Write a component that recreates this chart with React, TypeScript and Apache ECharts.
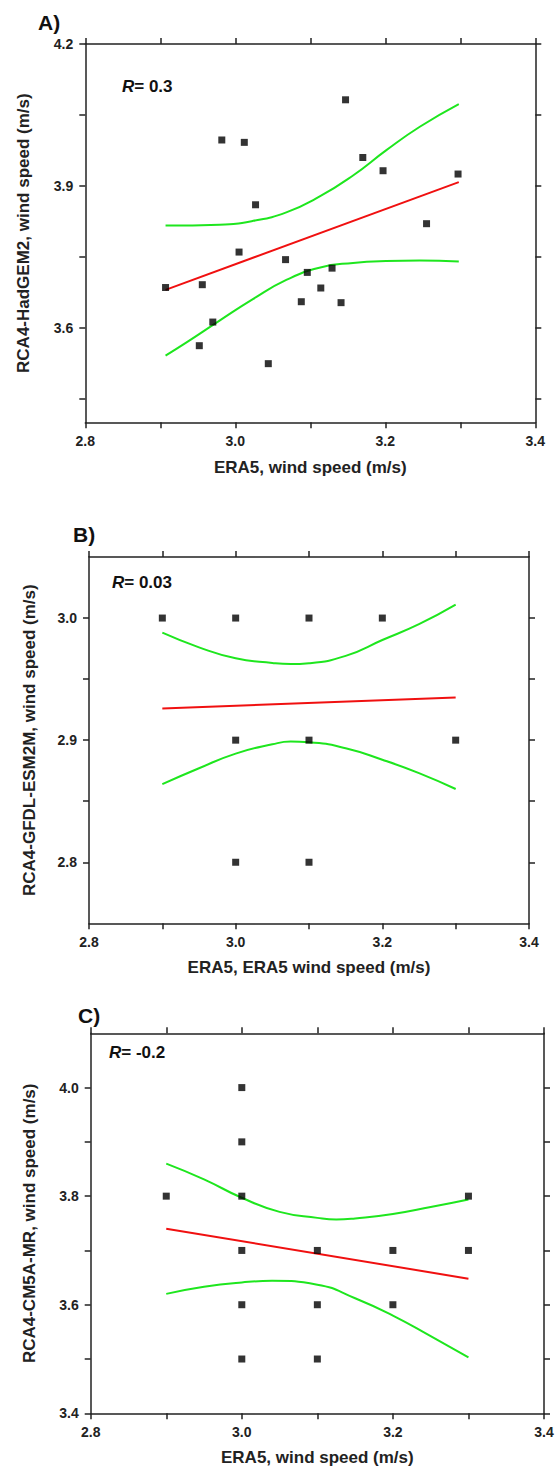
import React, { useEffect, useRef } from "react";
import * as echarts from "echarts";

// ---------- Panel A: RCA4-HadGEM2 ----------
const aObsX = [2.907, 2.956, 2.952, 2.970, 2.982, 3.012, 3.005, 3.027, 3.044, 3.067, 3.088, 3.096, 3.114, 3.129, 3.141, 3.147, 3.170, 3.197, 3.255, 3.297];
const aModY = [3.685, 3.691, 3.562, 3.612, 3.997, 3.992, 3.760, 3.860, 3.524, 3.744, 3.655, 3.717, 3.684, 3.726, 3.653, 4.082, 3.960, 3.932, 3.820, 3.925];
const aFitX = [2.907, 3.298];
const aFitY = [3.680, 3.908];
const aUpperX = [2.907, 2.979, 3.024, 3.068, 3.112, 3.157, 3.201, 3.246, 3.298];
const aUpperY = [3.816, 3.818, 3.826, 3.844, 3.877, 3.922, 3.975, 4.025, 4.073];
const aLowerX = [2.907, 2.935, 2.979, 3.024, 3.068, 3.112, 3.157, 3.201, 3.246, 3.298];
const aLowerY = [3.541, 3.569, 3.615, 3.661, 3.701, 3.727, 3.737, 3.741, 3.742, 3.740];
const aXTicks = [2.8, 2.9, 3.0, 3.1, 3.2, 3.3, 3.4];
const aXLabels = [2.8, 3.0, 3.2, 3.4];
const aYTicks = [3.45, 3.6, 3.75, 3.9, 4.05, 4.2];
const aYLabels = [3.6, 3.9, 4.2];

// ---------- Panel B: RCA4-GFDL-ESM2M ----------
const bObsX = [2.9, 3.0, 3.1, 3.2, 3.0, 3.1, 3.3, 3.0, 3.1];
const bModY = [3.0, 3.0, 3.0, 3.0, 2.9, 2.9, 2.9, 2.8, 2.8];
const bFitX = [2.9, 3.3];
const bFitY = [2.926, 2.935];
const bBandX = [2.9, 2.95, 3.0, 3.05, 3.075, 3.1, 3.15, 3.2, 3.25, 3.3];
const bUpperY = [2.988, 2.976, 2.967, 2.9632, 2.9623, 2.9630, 2.969, 2.982, 2.995, 3.011];
const bLowerY = [2.864, 2.877, 2.889, 2.8966, 2.8988, 2.8983, 2.8934, 2.884, 2.873, 2.860];
const bXTicks = [2.8, 2.9, 3.0, 3.1, 3.2, 3.3, 3.4];
const bXLabels = [2.8, 3.0, 3.2, 3.4];
const bYTicks = [2.8, 2.85, 2.9, 2.95, 3.0];
const bYLabels = [2.8, 2.9, 3.0];

// ---------- Panel C: RCA4-CM5A-MR ----------
const cObsX = [2.9, 3.0, 3.0, 3.0, 3.0, 3.0, 3.0, 3.1, 3.1, 3.1, 3.2, 3.2, 3.3, 3.3];
const cModY = [3.8, 4.0, 3.9, 3.8, 3.7, 3.6, 3.5, 3.7, 3.6, 3.5, 3.7, 3.6, 3.8, 3.7];
const cFitX = [2.9, 3.3];
const cFitY = [3.740, 3.648];
const cUpperX = [2.9, 2.95, 3.0, 3.05, 3.1, 3.125, 3.15, 3.2, 3.25, 3.3];
const cUpperY = [3.860, 3.831, 3.797, 3.771, 3.760, 3.757, 3.759, 3.767, 3.780, 3.794];
const cLowerX = [2.9, 2.95, 3.0, 3.04, 3.1, 3.15, 3.2, 3.25, 3.3];
const cLowerY = [3.620, 3.633, 3.641, 3.644, 3.637, 3.612, 3.580, 3.542, 3.503];
const cXTicks = [2.8, 2.9, 3.0, 3.1, 3.2, 3.3, 3.4];
const cXLabels = [2.8, 3.0, 3.2, 3.4];
const cYTicks = [3.4, 3.5, 3.6, 3.7, 3.8, 3.9, 4.0];
const cYLabels = [3.4, 3.6, 3.8, 4.0];

const FONT = '"Liberation Sans", Arial, sans-serif';
const AX = "#222";
const RED = "#f01010";
const GREEN = "#1ee61e";

const zip = (xs: number[], ys: number[]) => xs.map((x, i) => [x, ys[i]]);

function makeAxes(
  grid: number,
  xr: [number, number], xTicks: number[], xLabels: number[], xName: string, xGap: number,
  yr: [number, number], yTicks: number[], yLabels: number[], yName: string, yGap: number
) {
  const line = { show: true, onZero: false, lineStyle: { color: AX, width: 1.5 } };
  const tick = (vals: number[]) => ({ show: true, inside: false, length: 6, customValues: vals, lineStyle: { color: AX, width: 1.5 } });
  const label = (vals: number[], margin: number) => ({
    show: true, customValues: vals, margin,
    formatter: (v: number) => v.toFixed(1),
    fontFamily: FONT, fontSize: 14, fontWeight: "bold", color: AX,
  });
  const nameStyle = { fontFamily: FONT, fontSize: 17, fontWeight: "bold", color: AX };
  const xAxes = [
    { type: "value", gridIndex: grid, position: "bottom", min: xr[0], max: xr[1], axisLine: line, axisTick: tick(xTicks), axisLabel: label(xLabels, 12), splitLine: { show: false }, name: xName, nameLocation: "middle", nameGap: xGap, nameTextStyle: nameStyle, nameMoveOverlap: false },
    { type: "value", gridIndex: grid, position: "top", min: xr[0], max: xr[1], axisLine: line, axisTick: tick(xTicks), axisLabel: { show: false }, splitLine: { show: false } },
  ];
  const yAxes = [
    { type: "value", gridIndex: grid, position: "left", min: yr[0], max: yr[1], axisLine: line, axisTick: tick(yTicks), axisLabel: label(yLabels, 12), splitLine: { show: false }, name: yName, nameLocation: "middle", nameGap: yGap, nameTextStyle: nameStyle, nameMoveOverlap: false },
    { type: "value", gridIndex: grid, position: "right", min: yr[0], max: yr[1], axisLine: line, axisTick: tick(yTicks), axisLabel: { show: false }, splitLine: { show: false } },
  ];
  return { xAxes, yAxes };
}

function panelSeries(idx: number, pts: number[][], fit: number[][], up: number[][], lo: number[][]) {
  const xi = idx * 2, yi = idx * 2;
  return [
    { type: "line", xAxisIndex: xi, yAxisIndex: yi, data: up, smooth: true, symbol: "none", lineStyle: { color: GREEN, width: 2 }, z: 2 },
    { type: "line", xAxisIndex: xi, yAxisIndex: yi, data: lo, smooth: true, symbol: "none", lineStyle: { color: GREEN, width: 2 }, z: 2 },
    { type: "line", xAxisIndex: xi, yAxisIndex: yi, data: fit, symbol: "none", lineStyle: { color: RED, width: 2 }, z: 3 },
    { type: "scatter", xAxisIndex: xi, yAxisIndex: yi, data: pts, symbol: "rect", symbolSize: 7, itemStyle: { color: "#000" }, z: 4 },
  ];
}

export default function App() {
  const ref = useRef<HTMLDivElement>(null);
  useEffect(() => {
    document.body.style.margin = "0";
    if (!ref.current) return;
    const chart = echarts.init(ref.current, null, { renderer: "svg" });

    const A = makeAxes(0, [2.8, 3.4], aXTicks, aXLabels, "ERA5, wind speed (m/s)", 37, [3.4, 4.2], aYTicks, aYLabels, "RCA4-HadGEM2, wind speed (m/s)", 53);
    const B = makeAxes(1, [2.8, 3.4], bXTicks, bXLabels, "ERA5, ERA5 wind speed (m/s)", 36, [2.75, 3.05], bYTicks, bYLabels, "RCA4-GFDL-ESM2M, wind speed (m/s)", 51);
    const C = makeAxes(2, [2.8, 3.4], cXTicks, cXLabels, "ERA5, wind speed (m/s)", 36, [3.4, 4.1], cYTicks, cYLabels, "RCA4-CM5A-MR, wind speed (m/s)", 53);

    const rText = (x: number, y: number, val: string) => ({
      type: "text", x, y,
      style: {
        text: `{i|R}{n|= ${val}}`,
        verticalAlign: "middle",
        rich: {
          i: { fontFamily: FONT, fontSize: 17, fontWeight: "bold", fontStyle: "italic", fill: "#111" },
          n: { fontFamily: FONT, fontSize: 17, fontWeight: "bold", fill: "#111" },
        },
      },
      z: 10,
    });
    const pLabel = (x: number, y: number, t: string) => ({
      type: "text", x, y,
      style: { text: t, fontFamily: FONT, fontSize: 21, fontWeight: "bold", fill: "#111", verticalAlign: "middle" },
    });

    chart.setOption({
      animation: false,
      backgroundColor: "#fff",
      grid: [
        { left: 85.3, top: 44, width: 450, height: 378.3, outerBoundsMode: "none" },
        { left: 89, top: 557, width: 440, height: 366.3, outerBoundsMode: "none" },
        { left: 90.7, top: 1033.3, width: 453.3, height: 380, outerBoundsMode: "none" },
      ],
      xAxis: [...A.xAxes, ...B.xAxes, ...C.xAxes],
      yAxis: [...A.yAxes, ...B.yAxes, ...C.yAxes],
      series: [
        ...panelSeries(0, zip(aObsX, aModY), zip(aFitX, aFitY), zip(aUpperX, aUpperY), zip(aLowerX, aLowerY)),
        ...panelSeries(1, zip(bObsX, bModY), zip(bFitX, bFitY), zip(bBandX, bUpperY), zip(bBandX, bLowerY)),
        ...panelSeries(2, zip(cObsX, cModY), zip(cFitX, cFitY), zip(cUpperX, cUpperY), zip(cLowerX, cLowerY)),
      ],
      graphic: [
        pLabel(38, 22, "A)"),
        pLabel(73, 534, "B)"),
        pLabel(78, 1015, "C)"),
        rText(122, 86, "0.3"),
        rText(112, 582, "0.03"),
        rText(109, 1052, "-0.2"),
      ],
    });
    return () => chart.dispose();
  }, []);
  return <div ref={ref} style={{ width: 558, height: 1467 }} />;
}
